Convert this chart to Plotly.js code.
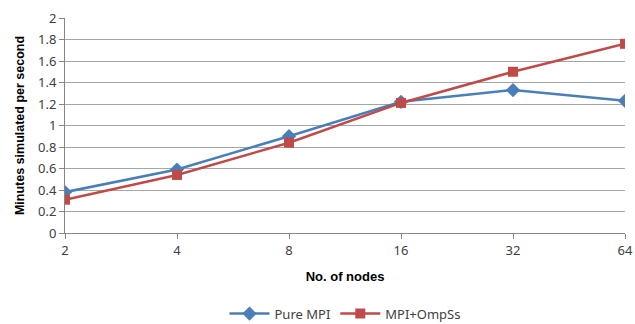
<!DOCTYPE html>
<html><head><meta charset="utf-8">
<script src="https://cdn.plot.ly/plotly-3.0.1.min.js"></script>
<style>body{margin:0;background:#fff}#c{width:635px;height:324px}</style>
</head><body><div id="c"></div>
<script>
const nodes = ['2','4','8','16','32','64'];
const pureMPI = [0.38, 0.59, 0.90, 1.22, 1.33, 1.23];
const mpiOmpSs = [0.31, 0.54, 0.84, 1.21, 1.50, 1.76];
const yTicks = [0,0.2,0.4,0.6,0.8,1,1.2,1.4,1.6,1.8,2];
const yTickText = ['0','0.2','0.4','0.6','0.8','1','1.2','1.4','1.6','1.8','2'];

const data = [
  {x: nodes, y: pureMPI, name: 'Pure MPI', type: 'scatter', mode: 'lines+markers',
   line: {color: '#4A7EBB', width: 2.5}, marker: {symbol: 'diamond', size: 11, color: '#4A7EBB'}},
  {x: nodes, y: mpiOmpSs, name: 'MPI+OmpSs', type: 'scatter', mode: 'lines+markers',
   line: {color: '#BE4B48', width: 2.5}, marker: {symbol: 'square', size: 10, color: '#BE4B48'}}
];
const layout = {
  width: 635, height: 324,
  margin: {l: 65, r: 10, t: 18, b: 91, autoexpand: false},
  paper_bgcolor: '#fff', plot_bgcolor: '#fff',
  font: {family: 'Noto Sans, sans-serif', size: 13, color: '#404040'},
  xaxis: {type: 'category', range: [0, 5], showgrid: false, zeroline: false,
    showline: true, linecolor: '#868686', linewidth: 1, automargin: false,
    ticks: 'outside', ticklen: 5, tickcolor: '#868686',
    tickfont: {size: 13, color: '#404040'},
    title: {text: 'No. of nodes', font: {family: 'Liberation Sans, Arial', size: 13, color: '#000', weight: 'bold'}, standoff: 14}},
  yaxis: {range: [0, 2], tickvals: yTicks, ticktext: yTickText, automargin: false,
    showgrid: true, gridcolor: '#A6A6A6', gridwidth: 1, zeroline: false,
    showline: true, linecolor: '#868686', linewidth: 1,
    ticks: 'outside', ticklen: 5, tickcolor: '#868686',
    tickfont: {size: 13, color: '#404040'},
    title: {text: 'Minutes simulated per second', font: {family: 'Liberation Sans, Arial', size: 12.5, color: '#000', weight: 'bold'}, standoff: 10}},
  legend: {orientation: 'h', x: 0.5, xanchor: 'center', y: -0.305, yanchor: 'top',
    itemwidth: 40, font: {size: 13, color: '#404040'}},
  showlegend: true
};
Plotly.newPlot('c', data, layout, {displayModeBar: false, staticPlot: true});
</script></body></html>
